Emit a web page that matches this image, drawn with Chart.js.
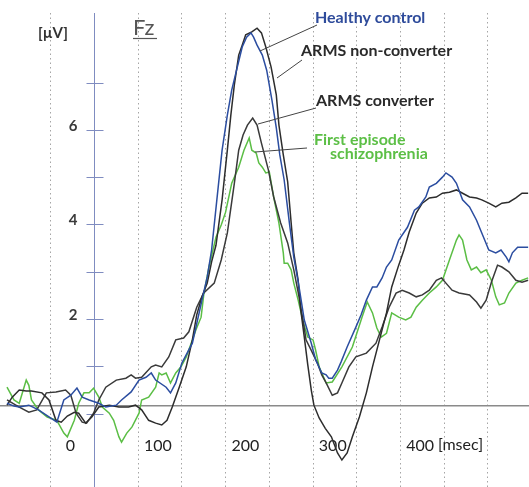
<!DOCTYPE html>
<html>
<head>
<meta charset="utf-8">
<script src="https://cdn.jsdelivr.net/npm/chart.js@4/dist/chart.umd.min.js"></script>
<style>
html,body{margin:0;padding:0;background:#fff;}
canvas{display:block;}
</style>
</head>
<body>
<canvas id="c" width="529" height="487"></canvas>
<script>
// Time (msec) / amplitude (µV) pairs
const healthyControl = [[-100,0.22],[-92,0.16],[-86,0.14],[-75,0.18],[-64,0.08],[-52,-0.07],[-43,-0.18],[-35,0.29],[-27,0.39],[-20,0.54],[-14,0.35],[-6,0.29],[5,0.22],[13,0.14],[25,0.18],[31,0.29],[42,0.46],[51,0.71],[59,0.77],[65,0.86],[70,0.71],[82,0.56],[87,0.44],[93,0.65],[100,1.07],[112,1.49],[123,2.40],[129,2.89],[134,3.46],[140,4.52],[146,5.57],[152,6.31],[157,6.84],[162,7.22],[169,7.75],[174,7.96],[179,8.05],[182,7.96],[186,7.79],[192,7.58],[197,7.26],[203,6.63],[208,6.04],[212,5.47],[217,4.94],[223,4.03],[228,3.31],[234,2.68],[240,1.98],[248,1.49],[253,1.14],[260,0.86],[265,0.82],[268,0.75],[272,0.75],[278,0.92],[282,1.09],[289,1.41],[299,1.83],[305,2.09],[311,2.40],[318,2.68],[323,2.68],[329,2.87],[334,3.10],[340,3.25],[348,3.67],[358,3.94],[366,4.30],[371,4.37],[379,4.58],[383,4.79],[391,4.87],[398,5.00],[402,5.09],[409,5.00],[414,4.87],[421,4.52],[429,4.37],[437,4.09],[443,3.82],[451,3.46],[459,3.40],[465,3.46],[471,3.31],[474,3.21],[478,3.40],[484,3.52],[489,3.52],[496,3.52]];

const armsNonConverter = [[-100,0.18],[-94,0.35],[-86,0.50],[-78,0.48],[-72,0.48],[-60,0.44],[-52,0.29],[-44,-0.14],[-38,-0.18],[-31,-0.05],[-23,0.03],[-18,0.01],[-10,-0.20],[-3,-0.07],[5,0.14],[17,0.18],[28,0.14],[39,0.14],[47,0.18],[54,0.08],[62,-0.14],[70,-0.20],[77,-0.24],[83,-0.14],[89,0.14],[97,0.56],[105,0.99],[112,1.56],[117,2.09],[123,2.47],[129,2.76],[134,3.21],[139,3.56],[146,4.52],[152,5.57],[156,6.31],[160,6.95],[165,7.58],[169,7.79],[173,8.01],[180,8.07],[186,8.15],[191,8.05],[196,7.75],[202,7.33],[208,6.74],[211,6.10],[216,5.47],[221,4.90],[225,4.03],[228,3.40],[233,2.82],[236,2.19],[240,1.62],[244,1.03],[248,0.50],[251,0.18],[257,-0.09],[264,-0.31],[271,-0.49],[278,-0.83],[283,-0.98],[289,-0.83],[295,-0.49],[303,-0.07],[311,0.44],[318,0.99],[326,1.56],[334,2.13],[340,2.68],[348,3.14],[354,3.46],[360,3.84],[368,4.24],[375,4.45],[383,4.56],[391,4.58],[398,4.66],[406,4.68],[414,4.73],[421,4.66],[429,4.58],[437,4.56],[443,4.52],[451,4.45],[459,4.37],[466,4.45],[474,4.47],[482,4.56],[489,4.66],[496,4.66]];

const armsConverter = [[-100,0.29],[-86,0.14],[-75,0.03],[-66,0.08],[-55,0.44],[-44,0.46],[-33,0.50],[-27,0.39],[-21,0.01],[-14,-0.18],[-9,-0.20],[-1,0.01],[5,0.29],[13,0.56],[25,0.71],[36,0.75],[42,0.82],[47,0.75],[54,0.77],[65,0.99],[70,1.03],[77,0.99],[85,1.20],[93,1.56],[102,1.60],[108,1.73],[117,2.25],[125,2.55],[137,2.76],[145,3.25],[152,3.82],[160,4.87],[165,5.57],[170,5.89],[175,6.10],[181,6.25],[186,6.10],[191,5.72],[199,5.15],[205,4.58],[213,4.03],[221,3.61],[228,3.04],[234,2.47],[239,1.92],[242,1.56],[248,1.34],[255,1.07],[260,0.82],[265,0.65],[272,0.39],[278,0.44],[283,0.65],[291,0.99],[299,1.20],[311,1.28],[322,1.49],[329,1.83],[337,2.25],[345,2.55],[352,2.61],[360,2.55],[368,2.47],[375,2.51],[383,2.61],[391,2.82],[397,2.87],[402,2.76],[409,2.61],[417,2.55],[429,2.51],[437,2.36],[442,2.23],[448,2.40],[454,2.78],[461,3.14],[466,3.10],[474,3.00],[482,2.82],[489,2.78],[496,2.82]];

const firstEpisode = [[-100,0.56],[-92,0.29],[-86,0.22],[-78,0.71],[-75,0.60],[-72,0.29],[-64,0.08],[-54,-0.07],[-43,-0.14],[-35,-0.41],[-31,-0.49],[-23,-0.14],[-18,0.22],[-12,0.44],[-6,0.44],[-1,0.54],[5,0.35],[9,0.14],[17,0.01],[22,-0.14],[28,-0.49],[31,-0.60],[37,-0.41],[43,-0.28],[51,0.01],[54,0.29],[62,0.35],[70,0.56],[74,0.86],[77,0.82],[82,0.86],[87,0.65],[93,0.86],[99,0.99],[105,1.20],[112,1.56],[116,1.77],[122,2.04],[125,2.51],[131,3.10],[139,3.73],[145,3.99],[150,4.26],[157,4.87],[165,5.21],[171,5.57],[177,5.83],[180,5.57],[185,5.51],[188,5.30],[192,5.21],[196,5.09],[200,5.11],[205,4.58],[211,4.03],[216,3.40],[217,3.18],[221,3.18],[225,3.04],[228,2.76],[233,2.40],[239,1.92],[244,1.62],[250,1.56],[253,1.34],[257,0.99],[265,0.65],[272,0.67],[283,0.99],[295,1.41],[306,2.04],[312,2.36],[318,2.13],[323,1.81],[328,1.62],[334,1.70],[340,2.13],[348,2.04],[356,1.98],[362,2.04],[368,2.25],[375,2.40],[383,2.55],[391,2.68],[398,2.82],[406,3.25],[414,3.67],[417,3.78],[421,3.67],[426,3.25],[431,3.04],[437,3.10],[442,2.98],[448,3.04],[454,2.82],[459,2.47],[463,2.30],[469,2.34],[474,2.55],[482,2.76],[489,2.82],[496,2.87]];

const seriesNames = ['Healthy control', 'ARMS non-converter', 'ARMS converter', 'First episode schizophrenia'];
const xTickLabels = [0, 100, 200, 300, 400];
const yTickLabels = [2, 4, 6];
const yTickMarks = [0, 1, 2, 3, 4, 5, 6, 7];

const toPts = arr => arr.map(p => ({x: p[0], y: p[1]}));
const zeroFit = s => {
  if (s.isHorizontal()) s.height = 0; else s.width = 0;
  s.paddingLeft = 0; s.paddingRight = 0; s.paddingTop = 0; s.paddingBottom = 0;
};

const annot = {
  id: 'annot',
  beforeDatasetsDraw(chart) {
    const ctx = chart.ctx, xs = chart.scales.x, ys = chart.scales.y;
    const ax = Math.round(xs.getPixelForValue(0)) + 0.5;
    ctx.save();
    ctx.strokeStyle = '#7F8CC0';
    ctx.lineWidth = 1;
    yTickMarks.forEach(v => {
      const py = Math.round(ys.getPixelForValue(v)) + 0.5;
      ctx.beginPath(); ctx.moveTo(ax - 8, py); ctx.lineTo(ax + 9, py); ctx.stroke();
    });
    // y tick labels from the scale
    ctx.font = 'bold 15px Lato';
    ctx.fillStyle = '#3a3a3a';
    ctx.textAlign = 'right';
    ctx.textBaseline = 'middle';
    yTickLabels.forEach(v => {
      ctx.fillText(String(v), ax - 17, ys.getPixelForValue(v) - 4);
    });
    ctx.restore();
  },
  afterDatasetsDraw(chart) {
    const ctx = chart.ctx;
    ctx.save();
    ctx.strokeStyle = '#444';
    ctx.lineWidth = 1;
    const lines = [[317,25,260,51],[302,60,277,78],[316,108,258,124],[307,148,255,152]];
    lines.forEach(l => { ctx.beginPath(); ctx.moveTo(l[0], l[1]); ctx.lineTo(l[2], l[3]); ctx.stroke(); });
    ctx.textBaseline = 'middle';
    ctx.textAlign = 'left';
    ctx.font = 'bold 16px Lato';
    ctx.fillStyle = '#2E4B9B';
    ctx.fillText(seriesNames[0], 315, 18);
    ctx.fillStyle = '#2a2a2a';
    ctx.fillText(seriesNames[1], 301, 51);
    ctx.fillText(seriesNames[2], 316, 101);
    ctx.fillStyle = '#5CBF46';
    ctx.fillText('First episode', 314, 140);
    ctx.fillText('schizophrenia', 330, 154);
    ctx.fillStyle = '#333';
    ctx.font = 'bold 15px Lato';
    ctx.fillText('[µV]', 38, 33);
    ctx.font = '22px Lato';
    ctx.fillStyle = '#555';
    ctx.fillText('Fz', 133, 28);
    ctx.strokeStyle = '#555';
    ctx.lineWidth = 1.2;
    ctx.beginPath(); ctx.moveTo(133, 38.5); ctx.lineTo(157, 38.5); ctx.stroke();
    ctx.font = '16px Lato';
    ctx.fillStyle = '#222';
    ctx.fillText('[msec]', 438, 445);
    ctx.restore();
  }
};

new Chart(document.getElementById('c'), {
  type: 'line',
  data: {
    datasets: [
      {label: seriesNames[0], data: toPts(healthyControl), borderColor: '#2B4DA0'},
      {label: seriesNames[1], data: toPts(armsNonConverter), borderColor: '#2d2d2d'},
      {label: seriesNames[2], data: toPts(armsConverter), borderColor: '#3a3a3a'},
      {label: seriesNames[3], data: toPts(firstEpisode), borderColor: '#5BBE45'}
    ]
  },
  options: {
    responsive: false,
    animation: false,
    devicePixelRatio: 1,
    layout: {padding: {top: 13, left: 0, right: 0, bottom: 0}},
    plugins: {legend: {display: false}, tooltip: {enabled: false}},
    elements: {point: {radius: 0}, line: {borderWidth: 1.5, tension: 0, fill: false}},
    scales: {
      x: {
        type: 'linear', min: -108, max: 497, position: {y: 0.16},
        afterFit: zeroFit,
        ticks: {
          stepSize: 50, includeBounds: false, autoSkip: false, maxRotation: 0, padding: 30,
          labelOffset: -24, color: '#222', font: {family: 'Lato', size: 16},
          callback: v => xTickLabels.includes(v) ? String(v) : ''
        },
        grid: {
          drawTicks: false, lineWidth: 1,
          color: c => (c.tick && c.tick.value > -60 && c.tick.value !== 0) ? '#a5a5a5' : 'rgba(0,0,0,0)'
        },
        border: {display: true, color: '#8a8a8a', width: 1.5, dash: [1.5, 3]}
      },
      y: {
        type: 'linear', min: -1.55, max: 8.47, position: {x: 0},
        afterFit: zeroFit,
        ticks: {display: false, stepSize: 1, includeBounds: false},
        grid: {drawOnChartArea: false, drawTicks: false},
        border: {display: true, color: '#7F8CC0', width: 1}
      }
    }
  },
  plugins: [annot]
});
</script>
</body>
</html>
